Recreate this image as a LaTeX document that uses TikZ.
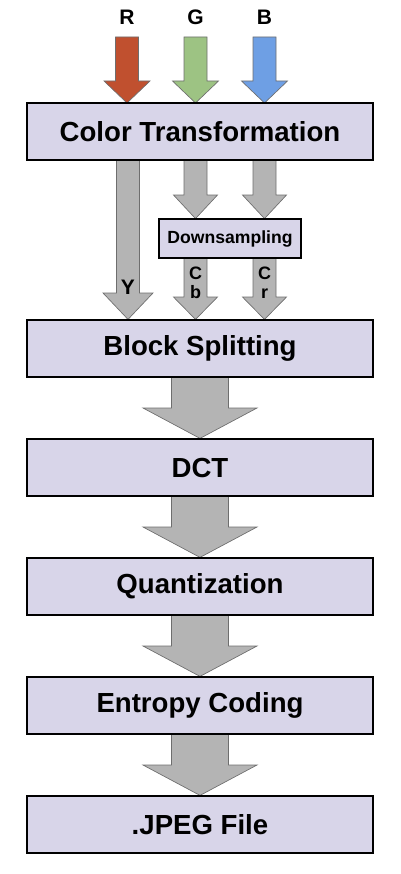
\documentclass[tikz,border=0pt]{standalone}
\usepackage{fontspec}
\setmainfont{Liberation Sans}
\begin{document}
\begin{tikzpicture}[x=0.75pt,y=-0.75pt,
  stage/.style={draw=black,line width=1.3pt,fill=boxfill,minimum width=346*0.75pt,minimum height=57*0.75pt,inner sep=0pt,font=\fontsize{20.7}{24}\selectfont\bfseries},
  smallstage/.style={draw=black,line width=1.2pt,fill=boxfill,minimum width=142*0.75pt,minimum height=39*0.75pt,inner sep=0pt,font=\fontsize{13.2}{15}\selectfont\bfseries},
  lbl/.style={font=\fontsize{15.75}{18}\selectfont\bfseries,inner sep=0pt},
  slbl/.style={font=\fontsize{13.5}{15}\selectfont\bfseries,inner sep=0pt,align=center},
  garrow/.style={fill=arrgrey,draw=arredge,line width=0.5pt,line join=miter}
]
\definecolor{boxfill}{HTML}{D8D5E9}
\definecolor{arrgrey}{HTML}{B4B4B4}
\definecolor{arredge}{HTML}{6E6E6E}
\definecolor{rred}{HTML}{C0502F}
\definecolor{ggreen}{HTML}{9DC383}
\definecolor{bblue}{HTML}{6E9FE4}
\useasboundingbox (0,0) rectangle (400,874);
% arrow macro: cx, top, headstart, tip, shaft half, head half, style
\newcommand\fatarrow[7]{%
  \draw[#7] (#1-#5,#2) -- (#1+#5,#2) -- (#1+#5,#3) -- (#1+#6,#3) -- (#1,#4)
    -- (#1-#6,#3) -- (#1-#5,#3) -- cycle;}
% boxes
\node[stage] (ct) at (200,131.5) {Color Transformation};
\node[smallstage] (ds) at (230,238.5) {Downsampling};
\node[stage] (bs) at (200,348.5) {Block Splitting};
\node[stage] (dct) at (200,467.5) {DCT};
\node[stage] (q) at (200,586.5) {Quantization};
\node[stage] (ec) at (200,705.5) {Entropy Coding};
\node[stage] (jf) at (200,824.5) {.JPEG File};
% RGB inputs
\node[lbl] (r) at (127,17) {R};
\node[lbl] (g) at (195.5,17) {G};
\node[lbl] (b) at (264.5,17) {B};
\fatarrow{127}{37}{81}{103}{11.5}{23}{fill=rred,draw=arredge,line width=0.5pt}
\fatarrow{195.5}{37}{81}{103}{11.5}{23}{fill=ggreen,draw=arredge,line width=0.5pt}
\fatarrow{264.5}{37}{81}{103}{11.5}{23}{fill=bblue,draw=arredge,line width=0.5pt}
% channel arrows
\fatarrow{128}{160.6}{293}{319.4}{11.5}{25}{garrow}
\fatarrow{195.5}{160.6}{195}{218.6}{11.5}{22}{garrow}
\fatarrow{264.5}{160.6}{195}{218.6}{11.5}{22}{garrow}
\fatarrow{195.5}{258.6}{297}{319.4}{11.5}{22}{garrow}
\fatarrow{264.5}{258.6}{297}{319.4}{11.5}{22}{garrow}
\node[lbl] (ylbl) at (128,287) {Y};
\node[slbl] (cblbl) at (195.5,283) {C\\[-1pt]b};
\node[slbl] (crlbl) at (264.5,283) {C\\[-1pt]r};
% stage arrows
\fatarrow{200}{377.6}{408}{438.4}{28.5}{57}{garrow}
\fatarrow{200}{496.6}{527}{557.4}{28.5}{57}{garrow}
\fatarrow{200}{615.6}{646}{676.4}{28.5}{57}{garrow}
\fatarrow{200}{734.6}{765}{795.4}{28.5}{57}{garrow}
% redraw boxes on top
\node[stage] at (ct) {Color Transformation};
\node[smallstage] at (ds) {Downsampling};
\node[stage] at (bs) {Block Splitting};
\node[stage] at (dct) {DCT};
\node[stage] at (q) {Quantization};
\node[stage] at (ec) {Entropy Coding};
\node[stage] at (jf) {.JPEG File};
\end{tikzpicture}
\end{document}
